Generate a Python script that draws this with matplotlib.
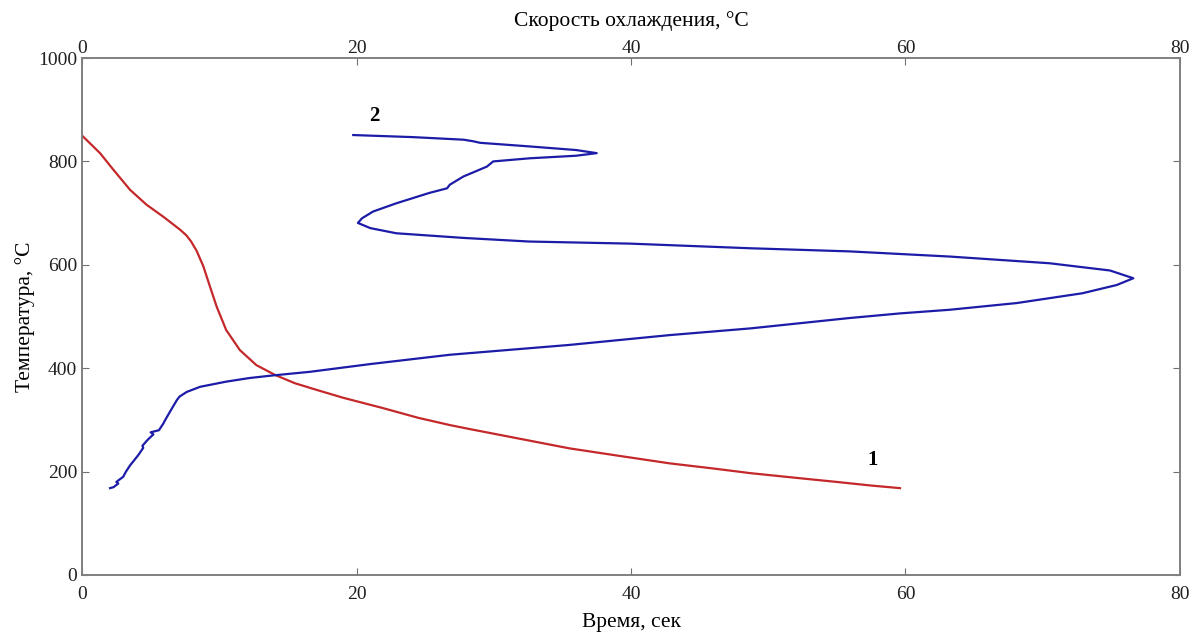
import matplotlib
matplotlib.use("Agg")
import matplotlib.pyplot as plt

plt.rcParams['font.family'] = ['Liberation Serif', 'DejaVu Serif']

# curve 1: temperature vs time (bottom axis)
time_s = [0, 1.31, 2.28, 3.5, 4.71, 5.92, 7.14, 7.6, 7.95, 8.35, 8.84, 9.32, 9.81,
          10.5, 11.5, 12.7, 14.06, 15.5, 17.1, 19.0, 21.9, 24.5, 26.8, 28.3,
          32.0, 35.5, 39.0, 42.8, 46.0, 48.7, 52.0, 55.0, 57.5, 59.6]
temp_1 = [850, 816, 784, 745, 716, 693, 668, 657, 645, 627, 597, 558, 519,
          474, 435, 406, 387, 371, 358, 343, 323, 304, 290, 282,
          263, 245, 231, 216, 206, 197, 188, 180, 173, 168]

# curve 2: temperature vs cooling rate (top axis)
rate = [2.04, 2.3, 2.64, 2.5, 3.0, 3.2, 3.5, 3.8, 4.1, 4.46, 4.4, 4.8, 5.2,
        5.0, 5.6, 5.9, 6.17, 6.5, 6.9, 7.1, 7.62, 8.6, 10.5, 12.2, 13.9, 16.6,
        21.0, 26.8, 35.5, 42.8, 48.7, 55.9, 59.6, 63.2, 68.1, 72.9, 75.4,
        76.6, 74.9, 70.5, 63.2, 55.9, 48.7, 39.9, 32.6, 27.8, 22.9, 21.0,
        20.1, 20.4, 21.2, 22.9, 25.3, 26.6, 26.8, 27.8, 28.7, 29.5, 29.96,
        32.6, 36.0, 37.5, 36.0, 32.6, 29.0, 28.5, 27.8, 24.1, 19.76]
temp_2 = [168, 170, 177, 180, 190, 200, 212, 222, 232, 246, 250, 262, 272,
          276, 280, 292, 305, 320, 338, 345, 354, 364, 374, 381, 386, 393,
          408, 426, 445, 464, 477, 497, 506, 513, 526, 545, 561,
          574, 589, 603, 616, 626, 632, 641, 645, 652, 661, 671,
          681, 690, 703, 719, 739, 748, 755, 771, 781, 790, 800,
          806, 811, 816, 822, 829, 836, 839, 842, 847, 851]

x_ticks = [0, 20, 40, 60, 80]
y_ticks = [0, 200, 400, 600, 800, 1000]

fig = plt.figure(figsize=(11.96, 6.32), dpi=100)
ax = fig.add_axes([0.0686, 0.0902, 0.918, 0.818])
ax.plot(time_s, temp_1, color='#c4282a', lw=1.6)
ax.set_xlim(0, 80)
ax.set_ylim(0, 1000)
ax.set_xticks(x_ticks)
ax.set_yticks(y_ticks)
ax.set_xlabel('Время, сек', fontsize=15.5, labelpad=7)
ax.set_ylabel('Температура, °C', fontsize=15.5, labelpad=2)
ax.tick_params(direction='in', length=5, labelsize=14, right=True,
               color='#707070', labelcolor='#202020')
ax.tick_params(axis='x', pad=8)
ax.text(57.6, 223, '1', fontsize=15, fontweight='bold', ha='center', va='center')

ax2 = ax.twiny()
ax2.plot(rate, temp_2, color='#1c1ca8', lw=1.6)
ax2.set_xlim(0, 80)
ax2.set_xticks(x_ticks)
ax2.set_xlabel('Скорость охлаждения, °C', fontsize=15.5, labelpad=10)
ax2.tick_params(direction='in', length=5, labelsize=14, pad=1,
                color='#707070', labelcolor='#202020')
ax2.text(21.3, 887, '2', fontsize=15, fontweight='bold', ha='center', va='center')

for a in (ax, ax2):
    for s in a.spines.values():
        s.set_color('#808080')
        s.set_linewidth(1.2)

fig.savefig('out.png', dpi=100)
